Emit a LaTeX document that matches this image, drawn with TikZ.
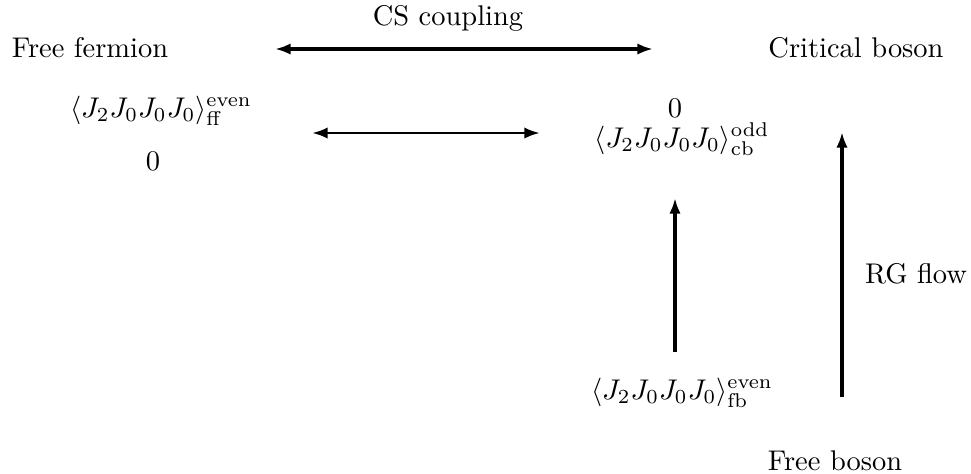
\documentclass[tikz,border=0pt]{standalone}
\usetikzlibrary{arrows.meta}
\begin{document}
\begin{tikzpicture}[x=0.3512pt,y=-0.3512pt,
  lbl/.style={anchor=base,inner sep=0pt,outer sep=0pt},
  tip/.style={Latex[length=5.5pt,width=4pt]},
  thickarr/.style={line width=1.4pt,{Latex[length=5.5pt,width=4pt]}-{Latex[length=5.5pt,width=4pt]}},
  thinarr/.style={line width=1pt,{Latex[length=5.5pt,width=4pt]}-{Latex[length=5.5pt,width=4pt]}},
  uparr/.style={line width=1.1pt,-{Latex[length=5.5pt,width=4pt]}},
  rgbar/.style={line width=1.5pt,-{Latex[length=5.5pt,width=4pt]}}]
\useasboundingbox (0,0) rectangle (971,473);
% texts
\node[lbl] (ff) at (90,57) {Free fermion};
\node[lbl] (cs) at (448,25) {CS coupling};
\node[lbl] (cb) at (856,57) {Critical boson};
\node[lbl] (cff) at (161,117) {$\langle J_2J_0J_0J_0\rangle^{\mathrm{even}}_{\mathrm{ff}}$};
\node[lbl] (zl) at (153,170) {$0$};
\node[lbl] (zr) at (675,117) {$0$};
\node[lbl] (ccb) at (682,147) {$\langle J_2J_0J_0J_0\rangle^{\mathrm{odd}}_{\mathrm{cb}}$};
\node[lbl] (cfb) at (682,399) {$\langle J_2J_0J_0J_0\rangle^{\mathrm{even}}_{\mathrm{fb}}$};
\node[lbl] (rg) at (916,283) {RG flow};
\node[lbl] (fbo) at (835,470) {Free boson};
% arrow end points
\coordinate (t1) at (275,49);
\coordinate (t2) at (653,49);
\coordinate (m1) at (312,133);
\coordinate (m2) at (540,133);
\coordinate (v1) at (675,352);
\coordinate (v2) at (675,198);
\coordinate (r1) at (842,397);
\coordinate (r2) at (842,132);
% arrows
\draw[thickarr] (t1) -- (t2);
\draw[thinarr] (m1) -- (m2);
\draw[uparr] (v1) -- (v2);
\draw[rgbar] (r1) -- (r2);
\end{tikzpicture}
\end{document}
